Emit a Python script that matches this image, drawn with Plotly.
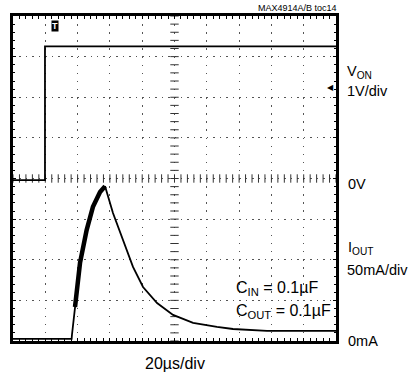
import plotly.graph_objects as go
import numpy as np

# ---- data (time in microseconds) ----
t_von = [0, 19.8, 19.8, 200]
v_von = [-0.04, -0.04, 3.25, 3.25]          # V

t_iout = [0, 36.3, 36.5, 38.4, 41.5, 45.6, 49.5, 53.9, 57.0, 61.9, 68.1, 74.3,
          80.5, 89.2, 99.1, 111.5, 126.3, 136.2, 157.3, 177.7, 200]
i_iout = [0, 0, 4.9, 39.4, 93.6, 134, 162.6, 181, 188, 155, 122, 88.7,
          64, 44.3, 29.6, 19.7, 14.8, 12.3, 9.9, 9.9, 9.9]   # mA

x_div = 20      # us/div
v_div = 1       # V/div
i_div = 50      # mA/div

FONT = "Liberation Sans, Arial, sans-serif"

fig = go.Figure()

# graticule centre tick marks
fig.add_trace(go.Scatter(x=np.arange(0, 200.01, x_div / 5), y=np.zeros(51),
                         mode="markers", hoverinfo="skip", showlegend=False,
                         marker=dict(symbol="line-ns", size=6,
                                     line=dict(width=1, color="#333"))))
fig.add_trace(go.Scatter(x=np.full(41, 100.0), y=np.arange(-4, 4.001, v_div / 5),
                         mode="markers", hoverinfo="skip", showlegend=False,
                         marker=dict(symbol="line-ew", size=6,
                                     line=dict(width=1, color="#333"))))

# VON trace
fig.add_trace(go.Scatter(x=t_von, y=v_von, mode="lines", showlegend=False,
                         line=dict(color="black", width=1.8)))

# IOUT trace: noisy (thick) rising portion + clean decay
noisy_t = [t for t in t_iout if 37 <= t <= 58]
noisy_i = [i for t, i in zip(t_iout, i_iout) if 37 <= t <= 58]
fig.add_trace(go.Scatter(x=t_iout, y=i_iout, mode="lines", showlegend=False,
                         yaxis="y2", line=dict(color="black", width=1.8)))
fig.add_trace(go.Scatter(x=noisy_t, y=noisy_i, mode="lines", showlegend=False,
                         yaxis="y2", line=dict(color="black", width=4.5)))

L, T, W, H = 13, 16, 323, 325
def px(x): return (x - L) / W
def py(y): return (T + H - y) / H

ann = []
def add(text, x, y, size=14.5, xanchor="left", **kw):
    ann.append(dict(text=text, x=px(x), y=py(y), xref="paper", yref="paper",
                    showarrow=False, xanchor=xanchor, yanchor="middle",
                    font=dict(family=FONT, size=size, color="black"), **kw))

add("MAX4914A/B toc14", 339, 8, size=9, xanchor="right")
add("V<sub>ON</sub>", 345, 72)
add("1V/div", 345, 91)
add("0V", 346, 184)
add("I<sub>OUT</sub>", 346, 248)
add("50mA/div", 345, 270)
add("0mA", 346, 341)
add("C<sub>IN</sub> = 0.1µF", 234, 288, size=16)
add("C<sub>OUT</sub> = 0.1µF", 234, 311, size=16)
add("20µs/div", 175, 363, size=16, xanchor="center")
ann.append(dict(text="<b>T</b>", x=px(55), y=py(26), xref="paper", yref="paper",
                showarrow=False, xanchor="center", yanchor="middle",
                bgcolor="black", borderpad=0,
                font=dict(family=FONT, size=9, color="white")))
ann.append(dict(text="◀", x=px(336), y=py(87), xref="paper", yref="paper",
                showarrow=False, xanchor="right", yanchor="middle",
                font=dict(family="DejaVu Sans", size=8, color="black")))

FW, FH = 409, 374
fig.update_layout(
    width=FW, height=FH,
    margin=dict(l=L, r=FW - L - W, t=T, b=FH - T - H),
    paper_bgcolor="white", plot_bgcolor="white",
    annotations=ann,
    xaxis=dict(range=[0, 200], dtick=x_div, showticklabels=False,
               showgrid=True, gridcolor="#555", gridwidth=1.3, griddash="1.5px,6.6px",
               zeroline=False, showline=True, linecolor="black", linewidth=2.5,
               mirror="allticks", ticks="inside", ticklen=3, tickcolor="black",
               minor=dict(dtick=x_div / 5, ticks="inside", ticklen=2, tickcolor="black")),
    yaxis=dict(range=[-4, 4], dtick=v_div, showticklabels=False,
               showgrid=True, gridcolor="#555", gridwidth=1.3, griddash="1.5px,4.96px",
               zeroline=False, showline=True, linecolor="black", linewidth=2.5,
               mirror="allticks", ticks="inside", ticklen=3, tickcolor="black",
               minor=dict(dtick=v_div / 5, ticks="inside", ticklen=2, tickcolor="black")),
    yaxis2=dict(range=[-2.5, 397.5], overlaying="y", visible=False),
)

fig.write_html("out.html", config={"displayModeBar": False},
               post_script="document.body.style.margin='0';document.body.style.overflow='hidden';")
